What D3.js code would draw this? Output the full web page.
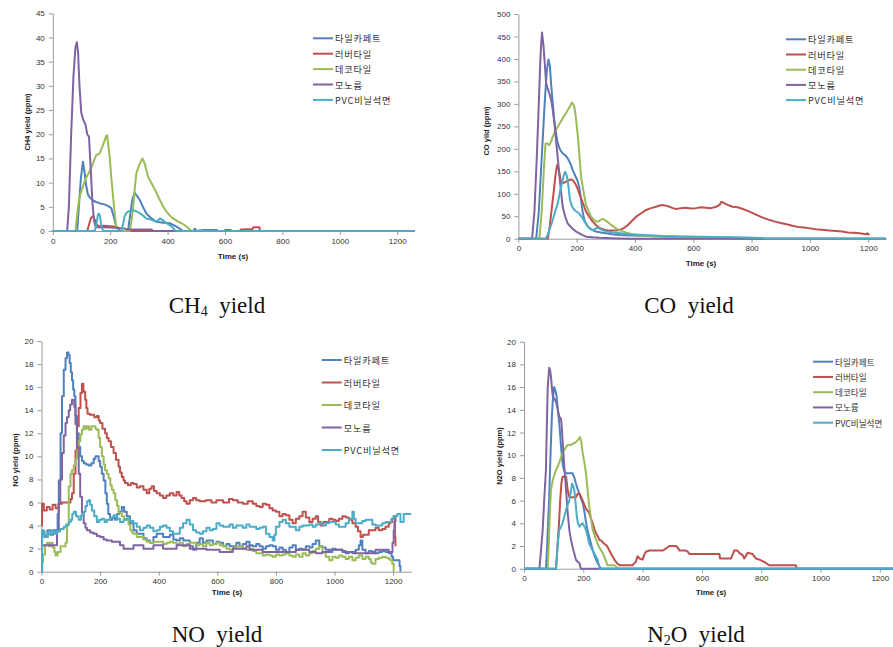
<!DOCTYPE html>
<html>
<head>
<meta charset="utf-8">
<script src="https://cdn.jsdelivr.net/npm/d3@7"></script>
<style>
body { margin: 0; background: #fff; }
</style>
</head>
<body>
<svg id="chart" width="893" height="647"></svg>
<script>
// Series names (legend order) and shared tick values.
const seriesNames = ['타일카페트', '러버타일', '데코타일', '모노륨', 'PVC비닐석면'];
const timeTicks = [0, 200, 400, 600, 800, 1000, 1200];
const ch4Ticks = [0, 5, 10, 15, 20, 25, 30, 35, 40, 45];
const coTicks = [0, 50, 100, 150, 200, 250, 300, 350, 400, 450, 500];
const ppm20Ticks = [0, 2, 4, 6, 8, 10, 12, 14, 16, 18, 20];

// CH4 yield, [time (s), ppm].
const ch4Tile = [[0,0],[85,0],[92,6],[98,11],[105,14.3],[110,12.5],[116,9.5],[122,7.6],[130,6.8],[140,6.3],[151,6],[165,5.7],[180,5.5],[195,5.1],[204,4.7],[212,3],[221,1],[233,0],[262,0],[270,3.5],[277,6.5],[285,7.9],[294,7.2],[303,6.4],[314,5],[326,3.6],[340,2.8],[361,1.9],[385,1.7],[408,1.6],[431,0.9],[449,0.2],[455,0],[490,0],[495,0.5],[500,0],[524,0.2],[571,0.2],[575,0],[1260,0]];
const ch4Rubber = [[0,0],[120,0],[127,1.5],[133,2.7],[140,3.1],[145,2.5],[151,1.5],[160,1],[180,1.1],[200,1],[220,0.9],[230,0.6],[233,0],[598,0],[600,0.2],[620,0.2],[622,0],[652,0],[655,0.3],[695,0.4],[700,0.8],[720,0.8],[722,0],[1260,0]];
const ch4Deco = [[0,0],[79,0],[86,4],[93,7.1],[105,9.2],[116,11],[128,12.3],[140,14],[151,15.7],[163,16],[175,17.8],[186,19.6],[189,19.8],[193,18],[198,15.4],[204,11],[210,7.1],[216,3.5],[221,0.9],[230,0],[268,0],[274,2],[280,5],[286,9],[291,11.9],[300,13.5],[312,15],[320,14],[332,11.2],[350,9.2],[362,7.8],[373,6.4],[385,5],[396,4],[408,3.2],[419,2.6],[435,2],[449,1.6],[460,1.2],[472,0.6],[484,0],[1260,0]];
const ch4Mono = [[0,0],[50,0],[56,5],[64,20],[72,32],[79,38],[84,39],[88,37],[93,30],[99,24.5],[106,23],[114,22],[120,20],[126,19.5],[132,13],[138,6],[144,2],[150,0.8],[200,0.7],[250,0.5],[260,0.3],[344,0.3],[350,0],[1260,0]];
const ch4Pvc = [[0,0],[146,0],[152,1.5],[157,3.3],[160,3.6],[164,3.2],[168,1.5],[175,0],[239,0],[245,1.5],[250,3],[256,3.7],[262,4],[270,4.2],[280,4.3],[290,4.1],[303,3.7],[314,3.2],[326,2.6],[340,2.4],[361,1.9],[373,2.6],[382,2.3],[390,1.9],[402,1.4],[414,0.9],[425,0.2],[430,0],[1260,0]];

// CO yield.
const coTile = [[0,0],[61,0],[70,60],[80,180],[90,300],[97,370],[103,399],[108,385],[112,346],[118,300],[123,264],[129,235],[135,212],[143,198],[152,190],[160,186],[169,179],[178,168],[186,153],[195,140],[204,127],[210,110],[215,86],[220,62],[226,42],[235,30],[244,23],[255,19],[266,16],[283,14],[301,12],[320,10],[346,8],[390,7],[438,6],[500,5],[552,4],[610,3],[667,2],[730,1],[780,0],[1260,0]];
const coRubber = [[0,0],[101,0],[108,30],[115,70],[122,110],[128,145],[133,164],[138,155],[146,127],[155,124],[164,127],[172,130],[181,132],[190,128],[198,119],[206,106],[215,90],[224,75],[232,60],[244,48],[255,38],[267,30],[278,24],[295,20],[312,18],[330,18],[346,19],[360,23],[375,30],[390,40],[404,49],[420,56],[438,64],[455,68],[472,71],[485,74],[495,75],[508,73],[518,71],[530,68],[541,66],[558,68],[575,69],[592,67],[609,68],[626,70],[644,69],[661,68],[678,71],[690,75],[696,82],[704,80],[712,77],[723,74],[735,71],[752,70],[770,66],[787,62],[804,57],[821,52],[838,47],[860,42],[880,38],[900,35],[920,32],[940,29],[960,26],[980,25],[1000,23],[1020,21],[1040,20],[1067,18],[1090,17],[1110,16],[1130,14],[1150,13],[1170,12],[1193,10],[1197,12],[1204,8]];
const coDeco = [[0,0],[72,0],[80,60],[87,150],[93,212],[100,212],[106,208],[112,216],[118,227],[127,240],[135,249],[143,258],[152,268],[160,276],[169,286],[178,296],[184,303],[188,300],[192,294],[198,265],[204,227],[210,180],[215,138],[222,110],[232,75],[240,62],[249,49],[258,43],[266,38],[275,38],[282,42],[289,44],[296,42],[304,38],[312,34],[324,28],[335,23],[350,18],[369,14],[390,10],[415,7],[450,6],[495,5],[550,4],[609,4],[665,3],[724,3],[740,0],[1260,0]];
const coMono = [[0,0],[47,0],[55,60],[63,180],[70,300],[76,410],[81,459],[86,430],[91,385],[95,346],[100,335],[106,323],[112,310],[118,286],[124,255],[129,220],[135,180],[141,138],[147,100],[152,71],[160,50],[169,34],[180,26],[192,19],[200,15],[209,12],[220,8],[232,4.5],[255,3],[278,2],[346,0.5],[392,0],[1260,0]];
const coPvc = [[0,0],[95,0],[100,8],[108,22],[118,42],[126,60],[135,79],[143,105],[152,131],[158,146],[161,149],[165,142],[169,131],[173,108],[177,86],[184,72],[192,64],[200,60],[209,56],[215,50],[221,45],[229,36],[238,27],[247,22],[255,19],[263,22],[272,24],[280,22],[289,19],[305,16],[324,14],[350,12],[381,10],[430,8],[495,6],[580,5],[667,4],[750,3],[838,1.5],[850,0],[1260,0]];

// NO yield.
const noTile = [[0,0],[2,3.5],[10,3],[20,3.6],[30,3.2],[40,3.6],[50,3.4],[55,5],[59,7.9],[65,12],[70,15.2],[76,17.5],[82,18.5],[87,19],[92,18.8],[96,18.1],[100,17.3],[104,16.6],[108,15.8],[112,15.2],[116,13.5],[121,12],[127,10.8],[132,10],[138,9.6],[144,9.4],[152,9.3],[161,9.2],[170,9.4],[178,9.8],[184,10],[189,10],[195,9.6],[200,9.1],[206,8.5],[212,7.9],[218,6.8],[223,5.9],[228,5],[234,4.5],[242,4.7],[251,4.5],[258,5],[266,5.2],[274,5.6],[282,5.2],[291,4.8],[302,4.2],[314,3.6],[325,3.3],[336,3.3],[348,2.9],[359,2.7],[370,2.5],[382,3],[393,3.3],[404,3.3],[415,3],[427,3],[438,3.2],[450,2.8],[461,2.7],[472,2.9],[484,2.7],[495,2.7],[506,2.2],[517,1.9],[528,2.5],[540,2.9],[551,2.5],[563,2.7],[574,2.7],[585,2.4],[597,2.6],[608,2.5],[620,2.2],[631,2.4],[642,2.2],[653,2.2],[665,2.5],[676,2.2],[687,2.4],[699,2.6],[710,2.3],[721,2.2],[733,2.4],[744,2.2],[755,2],[766,2.2],[778,2.3],[789,2.2],[800,1.9],[812,2.1],[823,1.9],[834,1.7],[846,2.1],[857,2.3],[868,1.9],[880,2],[891,1.9],[902,2.2],[914,2.1],[925,2.4],[936,2.7],[948,2.2],[959,2.1],[970,1.9],[982,1.7],[993,2],[1004,1.9],[1015,1.9],[1027,1.8],[1038,1.6],[1049,1.7],[1061,1.6],[1072,1.9],[1083,2.3],[1089,2.7],[1095,1.9],[1106,1.6],[1117,1.8],[1129,1.7],[1140,1.6],[1151,1.7],[1163,1.8],[1174,1.7],[1185,1.6],[1195,1.3],[1200,1],[1219,1],[1222,0.5],[1225,0]];
const noRubber = [[0,4],[2,5.9],[8,5.3],[18,5.6],[28,5.4],[38,5.8],[48,5.5],[58,5.9],[70,6],[82,6],[93,6],[99,6.3],[104,6.8],[110,8.5],[116,10.5],[121,12.6],[127,14.2],[133,15.5],[138,16.3],[143,15.6],[149,14.9],[153,14.2],[157,13.7],[165,13.6],[172,13.6],[180,13.4],[189,13.5],[195,13.1],[200,12.9],[208,12.4],[217,12],[223,11.6],[229,11.3],[237,10.8],[246,10.3],[254,9.7],[263,9.1],[268,8.6],[274,8.2],[280,7.9],[285,7.7],[295,7.5],[305,7.7],[314,7.6],[325,7.3],[336,7.4],[348,7.1],[359,6.8],[368,7.2],[376,7.4],[384,7],[393,6.8],[404,6.6],[415,6.4],[426,6.6],[438,6.8],[450,6.6],[461,6.9],[470,6.6],[478,6.4],[487,6.1],[495,5.9],[506,6.2],[517,6.4],[528,6.2],[540,6.1],[560,6.2],[580,6],[597,6.2],[620,6],[640,6.3],[653,6.2],[670,6],[687,5.9],[704,6.1],[721,5.9],[733,5.7],[744,5.6],[755,5.9],[766,5.8],[778,5.5],[789,5.3],[800,5.2],[812,4.8],[823,5],[834,4.9],[846,4.5],[857,4.2],[868,4.6],[880,4.8],[891,5.2],[902,4.7],[914,4.3],[925,4.6],[936,4.8],[944,4.3],[953,4],[962,4.3],[970,4.3],[982,4.6],[993,4.5],[1004,4.4],[1015,4.6],[1027,4.8],[1038,4.7],[1049,4.5],[1061,4.2],[1072,3.9],[1080,3.5],[1089,3],[1097,3.2],[1106,3.2],[1117,3.6],[1129,3.6],[1140,3.8],[1151,3.6],[1163,3.7],[1174,3.9],[1185,4.2],[1191,4.3],[1197,4.6],[1202,4.8],[1206,3],[1208,2.2]];
const noDeco = [[0,0.8],[5,1.5],[12,2.3],[19,2.5],[25,2.2],[31,2.5],[38,2.1],[44,1.7],[48,1.4],[55,1.7],[65,2.2],[75,2.2],[82,2.5],[87,4],[93,7.4],[99,8.5],[104,8.8],[110,9.2],[116,9.8],[121,10.5],[127,11.3],[133,11.9],[138,12.3],[144,12.6],[150,12.4],[155,12.6],[162,12.3],[170,12.6],[178,12.6],[184,12.4],[189,12.3],[195,11.6],[200,10.8],[206,10],[212,9.3],[217,8.8],[223,8.5],[229,8.1],[235,7.5],[240,7.1],[246,6.8],[252,6.2],[258,5.7],[263,5.1],[268,5.1],[274,4.8],[282,4.6],[291,4.5],[297,4.1],[303,3.6],[309,3.4],[314,3.3],[325,3],[336,3],[348,2.8],[359,2.6],[370,2.5],[382,2.6],[393,2.6],[404,2.6],[415,2.4],[427,2.5],[438,2.6],[449,2.5],[461,2.4],[472,2.5],[483,2.2],[495,2.4],[506,2.5],[517,2.5],[528,2.3],[540,2.4],[551,2.2],[563,2.5],[574,2.3],[585,2.4],[597,2.5],[608,2.3],[620,2.2],[631,2],[642,1.9],[653,2.1],[665,2.2],[676,2.2],[687,2],[699,1.9],[710,2],[721,1.8],[733,1.6],[744,1.6],[755,1.4],[766,1.5],[778,1.4],[789,1.3],[800,1.5],[812,1.4],[823,1.5],[834,1.6],[846,1.4],[857,1.3],[868,1.5],[880,1.3],[891,1.6],[902,1.4],[914,1.6],[925,1.8],[936,2],[948,2.2],[959,1.7],[970,1.3],[982,1],[993,1.3],[1004,1.2],[1015,1.4],[1027,1.3],[1038,1.1],[1049,1.3],[1061,1],[1072,1.2],[1083,1.4],[1095,1.1],[1106,1.3],[1117,1.1],[1124,0.8],[1129,0.7],[1140,1.1],[1151,1.2],[1163,1.3],[1174,1.2],[1185,1.1],[1191,1],[1197,0.7],[1202,0]];
const noMono = [[0,2.3],[48,2.3],[53,3.5],[59,5.9],[64,8],[70,10.3],[76,11.8],[82,12.9],[87,13.4],[93,14],[98,14.5],[104,14.9],[108,14.9],[112,14.3],[116,12.8],[121,10.8],[127,8.5],[132,6.5],[138,5.1],[144,4.2],[150,3.8],[155,3.6],[166,3.4],[178,3.3],[189,3.1],[200,3],[212,2.8],[223,2.7],[240,2.6],[257,2.6],[268,2.3],[280,2],[297,2],[314,2.3],[331,2.3],[348,2],[365,2],[382,2.3],[398,2.3],[415,2],[438,2],[461,2.3],[483,2.3],[506,2],[540,2],[563,1.9],[585,1.9],[608,1.7],[631,1.7],[653,2],[676,2],[699,2.2],[710,1.9],[733,1.9],[755,1.7],[778,1.7],[800,1.7],[823,1.7],[846,1.7],[868,1.9],[891,1.9],[914,1.7],[936,1.6],[959,1.7],[982,1.9],[1004,1.9],[1027,1.7],[1049,1.7],[1072,1.6],[1095,1.6],[1117,1.6],[1140,1.9],[1163,1.9],[1185,1.7],[1194,1.7],[1198,2.5],[1202,3.6],[1205,4.3],[1208,4.9]];
const noPvc = [[0,0],[2,3.6],[8,3.2],[14,3],[22,3.4],[31,3.6],[42,3.3],[53,3.5],[64,3.7],[76,3.9],[84,4.1],[93,4.3],[100,4.5],[105,5],[110,5.2],[118,4.8],[127,4.5],[135,4.9],[144,5.2],[150,5.7],[156,6.1],[161,6.2],[166,5.8],[172,5.3],[180,4.8],[189,4.3],[197,4.5],[206,4.6],[215,4.3],[223,4.5],[234,4.7],[246,4.9],[257,4.6],[268,4.3],[280,4.5],[291,4.6],[302,4.4],[314,4.2],[325,3.9],[336,3.6],[348,3.8],[359,4],[370,3.8],[382,3.5],[393,3.6],[404,3.9],[415,4],[427,3.8],[438,3.5],[449,3.3],[461,3.3],[472,3.8],[483,4.2],[495,4.5],[506,4.1],[517,3.6],[528,3.4],[540,3.3],[551,3.5],[563,3.8],[574,3.6],[585,3.7],[597,4.2],[608,4],[620,3.9],[631,3.9],[642,4.1],[653,3.8],[665,4],[676,4],[687,3.8],[699,4.1],[710,3.9],[721,3.9],[733,3.7],[744,3.8],[755,3.9],[766,3.3],[778,3],[789,2.7],[795,3.2],[800,3.9],[812,4.3],[823,4.5],[834,4.2],[846,3.9],[857,3.9],[868,3.6],[880,3.9],[891,4],[902,4],[914,4.1],[925,3.9],[936,4.1],[948,4.2],[959,4],[970,4.2],[982,4.3],[993,4.3],[1004,4.1],[1015,3.9],[1027,3.9],[1038,4.2],[1049,4.6],[1061,5.2],[1066,4.6],[1072,4.2],[1083,4.2],[1095,4.4],[1106,4.5],[1117,4.5],[1129,4.1],[1140,4],[1151,4],[1163,4.2],[1174,4.3],[1185,4.3],[1194,4.6],[1202,4.8],[1214,5],[1219,5],[1225,4.3],[1231,4.3],[1236,5],[1262,5]];

// N2O yield.
const n2oTile = [[0,0],[74,0],[78,2],[82,4.5],[85,6.3],[90,10.5],[94,13.4],[98,15.2],[102,16],[106,15.7],[110,15.2],[114,14],[119,12.8],[122,11.8],[125,10.7],[128,9.8],[131,9.1],[136,8.6],[142,8.4],[164,8.4],[170,8],[175,7.5],[181,7],[187,6.6],[192,6.2],[198,5.8],[204,5],[209,4.1],[214,3.4],[220,2.8],[226,2.2],[232,1.6],[240,1],[248,0.5],[255,0.2],[260,0],[1262,0]];
const n2oRubber = [[0,0],[108,0],[113,2],[118,4],[122,6],[126,7.5],[130,8.1],[142,8.1],[147,7],[153,6.3],[175,6.3],[181,6.6],[187,6.6],[193,6.3],[198,6],[204,5.6],[209,5.3],[215,5.1],[220,4.9],[226,4.4],[232,4],[237,3.5],[243,3.1],[250,2.8],[255,2.5],[260,2.5],[266,2.3],[271,2.2],[280,2],[288,1.6],[296,1.2],[305,0.8],[313,0.5],[322,0.3],[366,0.3],[377,0.6],[383,1.1],[390,0.9],[400,0.8],[405,1.2],[411,1.5],[423,1.6],[468,1.6],[480,1.8],[490,2],[513,2],[520,1.8],[524,1.6],[546,1.6],[552,1.5],[558,1.3],[659,1.3],[661,0.9],[698,0.9],[703,1.2],[709,1.6],[720,1.6],[726,1.4],[737,1.2],[743,0.9],[748,1.1],[754,1.4],[771,1.3],[776,1.1],[782,0.9],[794,0.8],[810,0.6],[827,0.3],[917,0.3],[920,0],[1262,0]];
const n2oDeco = [[0,0],[80,0],[84,2.5],[88,5.5],[91,6.9],[97,7.8],[103,8.3],[108,8.7],[114,9],[122,9.6],[130,10.2],[139,10.6],[147,10.9],[156,10.9],[164,11],[172,11.1],[181,11.3],[189,11.6],[193,11.2],[198,10.2],[204,9.3],[209,8.4],[215,6.8],[220,5.5],[226,4.4],[232,3.4],[240,2.8],[248,2.2],[256,1.8],[265,1.4],[273,0.9],[282,0.3],[305,0.3],[310,0.2],[316,0],[1262,0]];
const n2oMono = [[0,0],[52,0],[57,1.5],[63,3.4],[68,6],[74,8.7],[77,12.5],[80,16],[85,17.7],[88,17.5],[91,16.9],[94,16],[97,15.2],[102,15],[108,14.7],[114,14],[119,13.4],[125,13.2],[128,12.3],[130,11.3],[136,9],[142,6.9],[147,5],[153,3.4],[158,2.6],[164,1.9],[170,1.3],[175,0.8],[181,0.6],[187,0.5],[192,0],[1262,0]];
const n2oPvc = [[0,0],[108,0],[112,1.5],[115,2.5],[119,3.4],[125,3.7],[130,4],[136,4.6],[142,5.2],[147,5.6],[153,6],[158,6.8],[162,7.5],[166,7.3],[170,6.9],[174,5.8],[178,4.6],[182,4],[187,3.7],[192,3.9],[198,4],[204,3.7],[209,3.4],[215,2.8],[220,2.2],[226,1.9],[232,1.6],[240,1.2],[248,0.8],[252,0.4],[256,0],[1262,0]];

// Styles.
const COLORS = ['#4f81bd', '#c0504d', '#9bbb59', '#8064a2', '#4bacc6'];
const AXIS_COLOR = '#9a9a9a';
const TEXT_COLOR = '#333';
const SANS = '"Liberation Sans", Arial, sans-serif';
const KOREAN = '"Noto Sans CJK KR", "Noto Sans", sans-serif';
const SERIF = '"Liberation Serif", "DejaVu Serif", serif';

// Panel layout. legend: [x, y, row step, font size, letter spacing]
const panels = [
    {
        series: [ch4Tile, ch4Rubber, ch4Deco, ch4Mono, ch4Pvc], curve: d3.curveLinear,
        yMax: 45, yTicks: ch4Ticks, yLabel: 'CH4 yield (ppm)', caption: 'CH4  yield',
        x0: 52.8, px200: 57.4, xMax: 1260, y0: 231, yTop: 13.3,
        yLabelPos: [27, 122], xLabelPos: [233, 259], legend: [313, 38.3, 15.4, 9.2, 0.8],
        captionPos: [217, 305]
    },
    {
        series: [coTile, coRubber, coDeco, coMono, coPvc], curve: d3.curveLinear,
        yMax: 500, yTicks: coTicks, yLabel: 'CO yild (ppm)', caption: 'CO  yield',
        x0: 518.4, px200: 58.3, xMax: 1263, y0: 238.7, yTop: 14,
        yLabelPos: [486, 131], xLabelPos: [701, 266], legend: [786, 39.3, 15.2, 9.2, 0.8],
        captionPos: [689, 305]
    },
    {
        series: [noTile, noRubber, noDeco, noMono, noPvc], curve: d3.curveStepAfter,
        yMax: 20, yTicks: ppm20Ticks, yLabel: 'NO yield (ppm)', caption: 'NO  yield',
        x0: 41.5, px200: 58.6, xMax: 1263, y0: 571.7, yTop: 341,
        yLabelPos: [15, 460], xLabelPos: [227, 595], legend: [321.7, 360, 22.5, 9.2, 0.8],
        captionPos: [217, 634]
    },
    {
        series: [n2oTile, n2oRubber, n2oDeco, n2oMono, n2oPvc], curve: d3.curveLinear,
        yMax: 20, yTicks: ppm20Ticks, yLabel: 'N2O yield (ppm)', caption: 'N2O  yield',
        x0: 524, px200: 59.3, xMax: 1270, y0: 568.7, yTop: 341.7,
        yLabelPos: [499, 456], xLabelPos: [711, 595], legend: [813, 361.7, 15.25, 8.6, 0],
        captionPos: [696, 634]
    }
];

const svg = d3.select('#chart');

const styleAxis = (a) => {
    a.attr('font-family', SANS).attr('font-size', 8);
    a.select('.domain').attr('stroke', AXIS_COLOR);
    a.selectAll('.tick line').attr('stroke', AXIS_COLOR);
    a.selectAll('.tick text').attr('fill', TEXT_COLOR);
};

const drawPanel = (p) => {
    const x = d3.scaleLinear()
        .domain([0, p.xMax])
        .range([p.x0, p.x0 + p.xMax / 200 * p.px200]);
    const y = d3.scaleLinear()
        .domain([0, p.yMax])
        .range([p.y0, p.yTop]);
    const g = svg.append('g');

    // Axes.
    g.append('g')
        .attr('transform', `translate(${p.x0},0)`)
        .call(d3.axisLeft(y).tickValues(p.yTicks).tickFormat(d3.format('d'))
            .tickSize(4).tickSizeOuter(0).tickPadding(4))
        .call(styleAxis);
    g.append('g')
        .attr('transform', `translate(0,${p.y0})`)
        .call(d3.axisBottom(x).tickValues(timeTicks).tickFormat(d3.format('d'))
            .tickSize(4).tickSizeOuter(0).tickPadding(3))
        .call(styleAxis);

    // Series.
    const line = d3.line()
        .x(d => x(d[0]))
        .y(d => y(d[1]))
        .curve(p.curve);
    p.series.forEach((s, i) => {
        g.append('path')
            .datum(s)
            .attr('fill', 'none')
            .attr('stroke', COLORS[i])
            .attr('stroke-width', 2)
            .attr('stroke-linejoin', 'round')
            .attr('d', line);
    });

    // Axis titles.
    g.append('text')
        .attr('transform', `translate(${p.yLabelPos[0]},${p.yLabelPos[1]}) rotate(-90)`)
        .attr('text-anchor', 'middle')
        .attr('dominant-baseline', 'central')
        .attr('font-family', SANS)
        .attr('font-size', 7.5)
        .attr('font-weight', 'bold')
        .attr('fill', '#222')
        .text(p.yLabel);
    g.append('text')
        .attr('x', p.xLabelPos[0])
        .attr('y', p.xLabelPos[1])
        .attr('text-anchor', 'middle')
        .attr('font-family', SANS)
        .attr('font-size', 8)
        .attr('font-weight', 'bold')
        .attr('fill', '#222')
        .text('Time (s)');

    // Legend.
    const [lx, ly, ldy, lfs, lls] = p.legend;
    seriesNames.forEach((name, i) => {
        const yy = ly + i * ldy;
        g.append('line')
            .attr('x1', lx).attr('x2', lx + 20)
            .attr('y1', yy).attr('y2', yy)
            .attr('stroke', COLORS[i])
            .attr('stroke-width', 2);
        g.append('text')
            .attr('x', lx + 22)
            .attr('y', yy)
            .attr('dominant-baseline', 'central')
            .attr('font-family', KOREAN)
            .attr('font-size', lfs)
            .attr('letter-spacing', lls)
            .attr('fill', '#333')
            .text(name);
    });

    // Caption below the chart, digits as subscripts.
    const cap = g.append('text')
        .attr('x', p.captionPos[0])
        .attr('y', p.captionPos[1] + 8)
        .attr('text-anchor', 'middle')
        .attr('font-family', SERIF)
        .attr('font-size', 23)
        .attr('fill', '#111')
        .style('white-space', 'pre');
    p.caption.split(/(\d)/).filter(t => t.length).forEach(t => {
        const sub = /\d/.test(t);
        cap.append('tspan')
            .attr('font-size', sub ? 14 : 23)
            .attr('baseline-shift', sub ? '-3' : null)
            .text(t);
    });
};

panels.forEach(drawPanel);
</script>
</body>
</html>
